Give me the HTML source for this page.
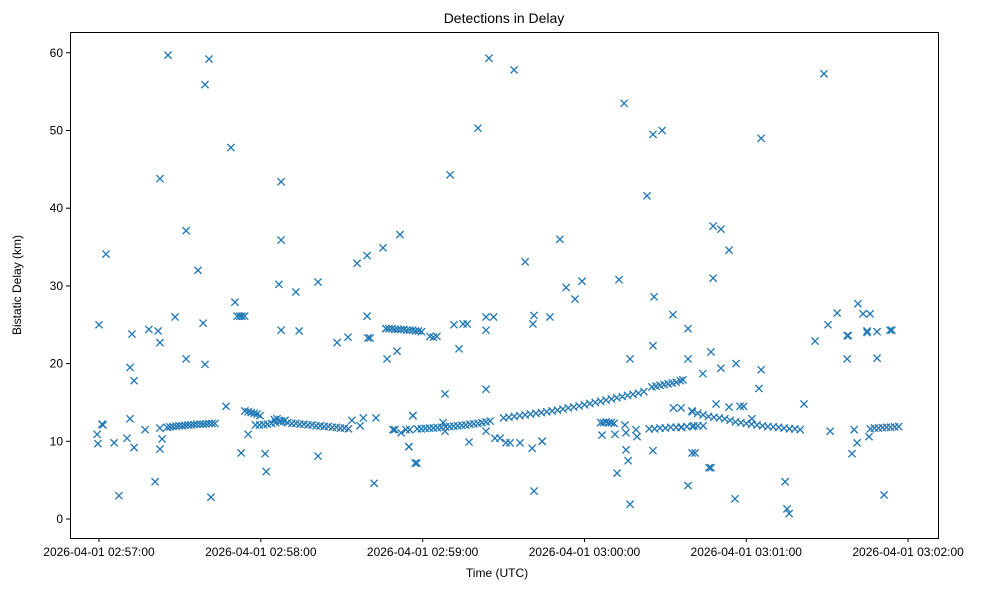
<!DOCTYPE html>
<html><head><meta charset="utf-8"><style>
body{margin:0;background:#fff;}
svg{display:block;font-family:"Liberation Sans","DejaVu Sans",sans-serif;}
</style></head><body>
<svg id="chart" width="985" height="590">
<rect x="0" y="0" width="985" height="590" fill="#fff"/>
<text x="504" y="23" font-size="14" text-anchor="middle">Detections in Delay</text>
<g id="marks"></g>
<g id="axes"></g>
<rect x="70.5" y="32.5" width="868" height="506" fill="none" stroke="#000" stroke-width="1"/>
<text x="497" y="577" font-size="12" text-anchor="middle">Time (UTC)</text>
<text transform="translate(21,285) rotate(-90)" font-size="12" text-anchor="middle">Bistatic Delay (km)</text>
</svg>
<script>
// seconds after 2026-04-01 02:57:00
const times = [
-0.7,-0.4,0,1.1,1.5,2.6,5.6,7.4,10.4,11.5,
11.5,12.2,13.0,13.0,17.1,18.5,20.8,21.9,22.6,22.6,
22.6,23.4,22.6,25.6,28.2,32.3,32.3,36.7,38.6,39.3,
39.3,40.8,41.5,47.1,48.9,50.4,51.2,52.2,53.0,54.0,
52.7,55.3,61.6,62.0,66.7,67.5,67.5,67.5,73.0,74.2,
81.2,81.2,88.3,92.3,95.7,99.4,99.7,99.4,100.5,102.0,
102.7,105.3,106.8,110.5,111.6,114.9,116.4,117.9,128.3,130.2,
131.6,133.5,143.5,135.0,136.5,140.5,143.5,144.6,153.9,158.0,
160.9,161.3,161.3,164.3,167.2,170.9,173.2,176.5,179.1,194.7,
192.8,195.4,196.2,196.9,196.9,203.2,205.8,205.4,205.4,205.4,
208.8,212.8,218.4,218.4,218.4,219.9,223.9,226.2,227.7,227.7,
226.9,230.6,233.6,235.8,236.2,245.5,245.5,244.7,261.4,254.4,
255.1,255.9,268.8,270.3,273.7,265.5,281.4,283.3,285.9,277.4,
277.8,284.8,284.8,288.5,293.3,294,277.4,288.5,271.1,280.0,
281.1,279.2,285.5,291.1,
106.4,112.0,109.0,109.7,113.8,115.2,114.9,116.4,117.2,143.5,
146.3,127.6,128.3,143.5,146.8,148.7,150.9,152.4,156.1,160.6,
137.2,164.3,98.0,96.8,93.8,186.5,191.3,195.0,195.4,199.1,
199.5,192.1,213.0,215.8,219.9,221.0,226.9,228.8,230.6,233.6,
237.7,239,242.1,215.8,220.6,
25.2,26.3,27.4,28.6,29.7,30.8,31.9,33.0,34.1,35.2,36.3,37.5,38.6,39.7,40.8,41.9,43.0,
54.1,55.3,56.4,57.5,58.6,59.7,
58,59.5,61,62.5,64,65.5,67,68.5,70,71.5,73,74.5,76,77.5,79,80.5,82,83.5,85,86.5,88,89.5,91,92.5,65,66,67.5,69,
106.4,107.5,108.6,109.7,110.8,111.9,113,114.1,115.2,116.3,117.4,118.5,119.6,122.7,124,125.3,
118,119.5,121,122.5,124,125.5,127,128.5,130,131.5,133,134.5,136,137.5,139,140.5,142,143.5,145,
150,152,154,156,158,160,162,164,166,168,170,172,174,176,178,180,182,184,186,188,190,192,194,196,198,200,202,
205,206.5,208,209.5,211,212.5,214,215.5,216.5,
186,187,188,189,190,191,
204,206,208,210,212,214,216,218,220,222,224,
220,222,224,226,228,230,232,234,236,238,240,242,244,246,248,250,252,254,256,258,260,
286,287.5,289,290.5,292,293.5,295,296.5
];
const delays = [
10.9,9.7,25.0,12.2,12.1,34.1,9.8,3.0,10.4,12.9,
19.5,23.8,17.8,9.2,11.5,24.4,4.8,24.2,43.8,22.7,
9.0,10.3,11.7,59.7,26.0,37.1,20.6,32.0,25.2,19.9,
55.9,59.2,2.8,14.5,47.8,27.9,26.1,26.1,26.1,26.1,
8.5,10.9,8.4,6.1,30.2,43.4,35.9,24.3,29.2,24.2,
8.1,30.5,22.7,23.4,32.9,33.9,23.3,26.1,23.3,4.6,
13.0,34.9,20.6,21.6,36.6,9.3,13.3,7.2,16.1,44.3,
25.0,21.9,24.3,25.1,25.1,50.3,16.7,59.3,57.8,33.1,
25.1,3.6,26.2,10.0,26.0,36.0,29.8,28.3,30.6,53.5,
30.8,8.9,7.5,1.9,20.6,41.6,28.6,49.5,22.3,8.8,
50.0,26.3,24.5,20.6,4.3,8.5,18.7,6.6,37.7,31.0,
21.5,37.3,34.6,2.6,20.0,49.0,19.2,16.8,14.8,4.8,
1.3,0.7,57.3,25.0,26.5,22.9,27.7,26.4,26.4,23.6,
23.6,24.0,24.2,24.1,24.3,24.3,20.6,20.7,11.3,11.5,
9.8,8.4,10.6,3.1,
24.5,11.1,11.5,11.5,11.5,11.5,9.3,13.3,7.2,26.0,
26.0,12.4,11.3,11.3,10.4,10.4,9.8,9.8,9.8,9.1,
9.9,10.0,13.0,12.0,12.7,10.8,10.9,12.1,11.1,11.5,
10.6,5.9,14.3,14.3,13.9,8.5,6.6,14.8,19.4,14.4,
14.5,14.5,12.9,11.8,12.0,
11.8,11.85,11.9,11.95,12.0,12.0,12.05,12.1,12.1,12.15,12.2,12.2,12.2,12.25,12.3,12.3,12.3,
13.9,13.8,13.7,13.6,13.5,13.3,
12.1,12.1,12.15,12.2,12.3,12.4,12.5,12.6,12.4,12.3,12.3,12.2,12.2,12.1,12.1,12.0,12.0,11.9,11.9,11.8,11.8,11.7,11.7,11.6,12.8,12.9,12.6,12.7,
24.5,24.5,24.5,24.4,24.4,24.4,24.4,24.3,24.3,24.3,24.2,24.2,24.1,23.5,23.4,23.5,
11.6,11.6,11.65,11.7,11.7,11.75,11.8,11.85,11.9,11.95,12.0,12.05,12.1,12.2,12.25,12.3,12.4,12.5,12.6,
13.0,13.1,13.2,13.3,13.4,13.5,13.6,13.7,13.8,13.9,14.0,14.15,14.3,14.4,14.55,14.7,14.85,15.0,15.15,15.3,15.45,15.6,15.75,15.9,16.05,16.2,16.4,
17.0,17.1,17.2,17.3,17.4,17.5,17.6,17.8,17.9,
12.4,12.4,12.5,12.4,12.4,12.3,
11.6,11.6,11.7,11.7,11.8,11.8,11.8,11.9,11.9,12.0,12.0,
13.8,13.6,13.4,13.2,13.1,13.0,12.9,12.7,12.5,12.4,12.3,12.2,12.1,12.0,11.9,11.85,11.8,11.7,11.6,11.6,11.5,
11.6,11.7,11.7,11.75,11.8,11.8,11.85,11.9
];
const yTicks = [0,10,20,30,40,50,60];
const xTickSeconds = [0,60,120,180,240,300];
const xTickLabels = ["2026-04-01 02:57:00","2026-04-01 02:58:00","2026-04-01 02:59:00","2026-04-01 03:00:00","2026-04-01 03:01:00","2026-04-01 03:02:00"];

const NS="http://www.w3.org/2000/svg";
function xs(t){return 99 + t*2.697;}
function ys(v){return 519 - v*7.77;}
const marks=document.getElementById('marks');
const axes=document.getElementById('axes');
const n=Math.min(times.length,delays.length);
for(let i=0;i<n;i++){
  const x=xs(times[i]), y=ys(delays[i]), r=3.6;
  const p=document.createElementNS(NS,'path');
  p.setAttribute('d',`M${x-r},${y-r}L${x+r},${y+r}M${x-r},${y+r}L${x+r},${y-r}`);
  p.setAttribute('stroke','#1f77b4');
  p.setAttribute('stroke-width','1.3');
  p.setAttribute('fill','none');
  
  
  marks.appendChild(p);
}
yTicks.forEach(v=>{
  const y=ys(v);
  const l=document.createElementNS(NS,'line');
  l.setAttribute('x1',66);l.setAttribute('x2',70);l.setAttribute('y1',y);l.setAttribute('y2',y);
  l.setAttribute('stroke','#000');
  
  
  axes.appendChild(l);
  const t=document.createElementNS(NS,'text');
  t.setAttribute('x',63);t.setAttribute('y',y+4);t.setAttribute('font-size','12');t.setAttribute('text-anchor','end');
  t.textContent=v;
  
  
  axes.appendChild(t);
});
xTickSeconds.forEach((s,i)=>{
  const x=xs(s);
  const l=document.createElementNS(NS,'line');
  l.setAttribute('x1',x);l.setAttribute('x2',x);l.setAttribute('y1',538);l.setAttribute('y2',542);
  l.setAttribute('stroke','#000');
  
  
  axes.appendChild(l);
  const t=document.createElementNS(NS,'text');
  t.setAttribute('x',x);t.setAttribute('y',556);t.setAttribute('font-size','12');t.setAttribute('text-anchor','middle');
  t.textContent=xTickLabels[i];
  
  
  axes.appendChild(t);
});
</script>
</body></html>
